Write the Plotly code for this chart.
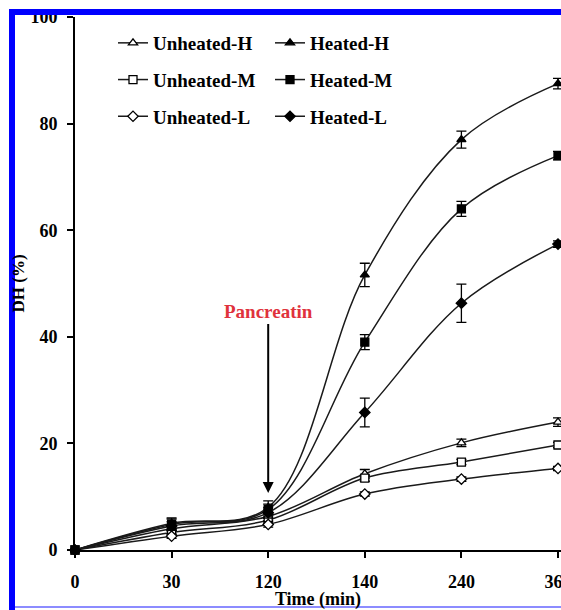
import plotly.graph_objects as go

categories = ["0", "30", "120", "140", "240", "360"]

unheated_h = [0, 4.0, 6.3, 14.3, 20.1, 24.0]
unheated_m = [0, 3.3, 5.6, 13.5, 16.5, 19.7]
unheated_l = [0, 2.6, 4.8, 10.5, 13.3, 15.3]
heated_h = [0, 5.0, 8.0, 51.6, 77.0, 87.5]
heated_m = [0, 4.8, 7.6, 39.0, 64.0, 74.0]
heated_l = [0, 4.5, 7.0, 25.8, 46.3, 57.4]

unheated_h_err = [0, 0.5, 0.8, 0.8, 0.7, 0.8]
unheated_m_err = [0, 0.4, 0.6, 0.6, 0.5, 0.5]
unheated_l_err = [0, 0.4, 0.5, 0.4, 0.4, 0.4]
heated_h_err = [0, 1.0, 1.2, 2.2, 1.6, 1.0]
heated_m_err = [0, 1.0, 1.0, 1.4, 1.4, 0.8]
heated_l_err = [0, 0.8, 1.0, 2.7, 3.6, 0.6]

FONT = "Liberation Serif"
LINE = "#1a1a1a"

series = [
    ("Unheated-H", unheated_h, unheated_h_err, "triangle-up", "white", "legend"),
    ("Unheated-M", unheated_m, unheated_m_err, "square", "white", "legend"),
    ("Unheated-L", unheated_l, unheated_l_err, "diamond", "white", "legend"),
    ("Heated-H", heated_h, heated_h_err, "triangle-up", "black", "legend2"),
    ("Heated-M", heated_m, heated_m_err, "square", "black", "legend2"),
    ("Heated-L", heated_l, heated_l_err, "diamond", "black", "legend2"),
]

fig = go.Figure()
for name, ys, err, sym, fill, leg in series:
    fig.add_trace(go.Scatter(
        x=categories, y=ys, name=name, mode="lines+markers",
        line=dict(color=LINE, width=1.5, shape="spline"),
        marker=dict(symbol=sym, size=8, color=fill, line=dict(color="black", width=1.3)),
        error_y=dict(type="data", array=err, visible=True, color="black", thickness=1.3, width=5),
        cliponaxis=False, legend=leg, legendgroup=name,
    ))

W, H = 561, 610
L, R, T, B = 75, 0, 17, 60
pw, ph = W - L - R, H - T - B

def px(x):
    return (x - L) / pw

def py(y):
    return (H - B - y) / ph

legend_common = dict(
    orientation="v", bgcolor="rgba(0,0,0,0)", tracegroupgap=9,
    font=dict(family=FONT, size=19, color="black", weight="bold"),
    xanchor="left", yanchor="middle",
)

fig.update_layout(
    width=W, height=H,
    margin=dict(l=L, r=R, t=T, b=B, autoexpand=False),
    paper_bgcolor="white", plot_bgcolor="white",
    font=dict(family=FONT, size=18, color="black", weight="bold"),
    legend=dict(x=px(113), y=py(80), **legend_common),
    legend2=dict(x=px(270), y=py(80), **legend_common),
    xaxis=dict(
        type="category", range=[0, pw / 96.6], automargin=False,
        showline=True, linecolor="black", linewidth=2,
        ticks="outside", ticklen=6, tickwidth=2, tickcolor="black",
        showgrid=False, zeroline=False,
        tickfont=dict(family=FONT, size=18, color="black", weight="bold"),
        ticklabelstandoff=8,
        title=dict(text="Time (min)", standoff=21,
                   font=dict(family=FONT, size=18, color="black", weight="bold")),
    ),
    yaxis=dict(
        range=[0, 100], tickvals=[0, 20, 40, 60, 80, 100], automargin=False,
        showline=True, linecolor="black", linewidth=2,
        ticks="outside", ticklen=6, tickwidth=2, tickcolor="black",
        showgrid=False, zeroline=False,
        tickfont=dict(family=FONT, size=18, color="black", weight="bold"),
        ticklabelstandoff=6,
        title=dict(text="DH (%)", standoff=1,
                   font=dict(family=FONT, size=17, color="black", weight="bold")),
    ),
    annotations=[dict(
        x=2, y=10.7, xref="x", yref="y", text="Pancreatin",
        showarrow=True, ax=0, ay=-181, arrowhead=2, arrowsize=1.1, arrowwidth=2,
        arrowcolor="black", standoff=0,
        font=dict(family=FONT, size=19, color="#e0323c", weight="bold"),
    )],
    shapes=[
        dict(type="rect", xref="paper", yref="paper", x0=px(9), x1=px(575), y0=py(9), y1=py(15),
             fillcolor="#0000ff", line=dict(width=0), layer="above"),
        dict(type="rect", xref="paper", yref="paper", x0=px(9), x1=px(15), y0=py(9), y1=py(612),
             fillcolor="#0000ff", line=dict(width=0), layer="above"),
        dict(type="rect", xref="paper", yref="paper", x0=px(15), x1=px(575), y0=py(606), y1=py(608),
             fillcolor="#8c8cff", line=dict(width=0), layer="above"),
    ],
)

fig.write_html(
    "out.html",
    config={"displayModeBar": False},
    post_script="document.body.style.margin='0';document.body.style.overflow='hidden';",
)
